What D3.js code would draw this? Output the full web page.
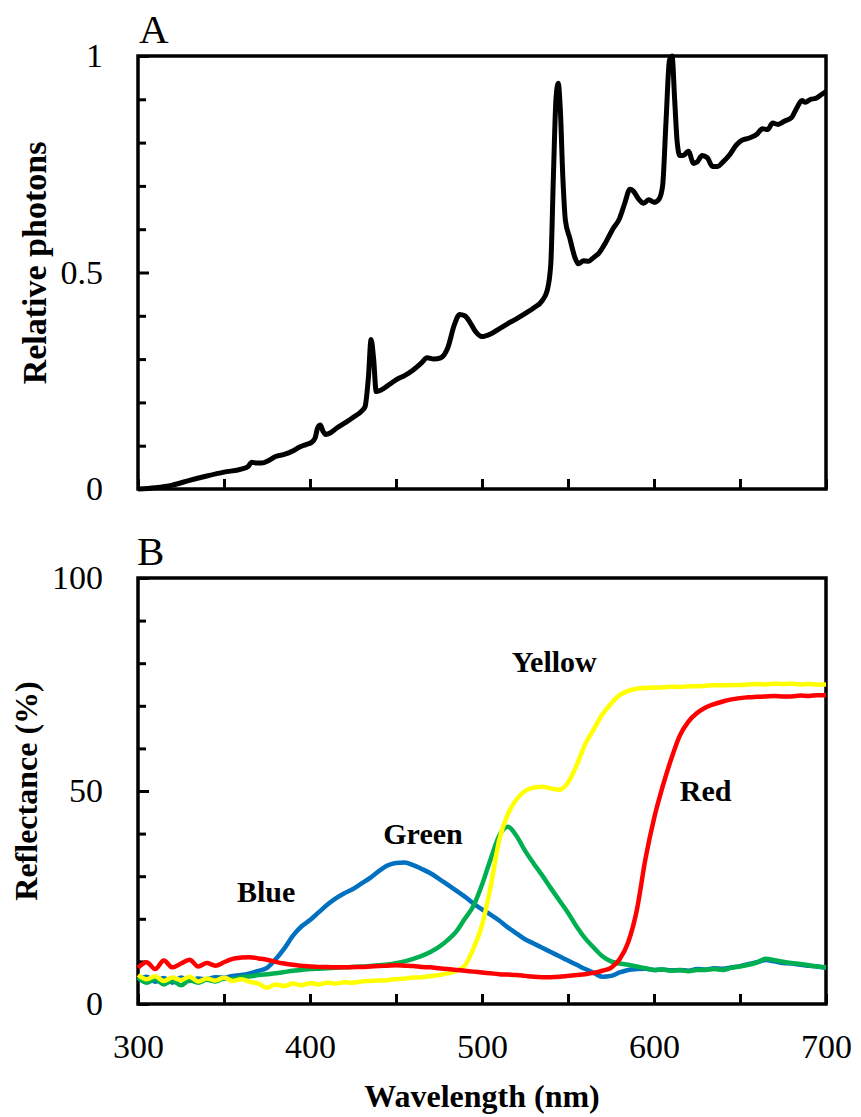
<!DOCTYPE html>
<html>
<head>
<meta charset="utf-8">
<script src="https://cdn.jsdelivr.net/npm/d3@7"></script>
<style>
body { margin: 0; background: #fff; }
svg text { font-family: "Liberation Serif", "Times New Roman", serif; fill: #000; }
</style>
</head>
<body>
<div id="chart"></div>
<script>
// panel A - lamp spectrum (relative photons)
var lampNm = [300, 310, 320, 330, 340, 350, 360, 364, 366, 369, 372, 376, 380, 385, 390, 394, 398, 401,
  403, 404.5, 406, 407.5, 409, 412, 416, 420, 425, 430, 432, 434, 435.5, 437, 438.5, 441, 445, 450,
  455, 460, 465, 468, 472, 476, 480, 484, 487, 490, 493, 496, 500, 505, 510, 515, 520, 525, 530,
  535, 538, 540, 541.5, 543, 544.3, 545.5, 547, 548.5, 551, 554, 556, 559, 562, 565, 568, 572, 576,
  580, 583, 586, 588, 591, 594, 597, 600, 603, 605, 607, 609, 610.5, 612, 613.5, 615, 617, 620, 623,
  625, 628, 631, 634, 637, 640, 644, 648, 651, 655, 660, 663, 666, 669, 672, 676, 680, 683, 686,
  688, 691, 694, 697, 700];
var lampPhotons = [0.000, 0.003, 0.009, 0.020, 0.030, 0.039, 0.046, 0.052, 0.062, 0.060, 0.060, 0.066, 0.075, 0.080, 0.088, 0.097, 0.103, 0.108,
  0.118, 0.142, 0.148, 0.134, 0.126, 0.130, 0.142, 0.152, 0.165, 0.180, 0.190, 0.260, 0.345, 0.300, 0.225, 0.228, 0.238, 0.252,
  0.262, 0.275, 0.292, 0.303, 0.300, 0.303, 0.325, 0.380, 0.403, 0.400, 0.385, 0.365, 0.352, 0.358, 0.370, 0.382, 0.393, 0.405, 0.418,
  0.435, 0.460, 0.520, 0.720, 0.900, 0.937, 0.880, 0.720, 0.620, 0.580, 0.535, 0.520, 0.527, 0.526, 0.535, 0.545, 0.570, 0.600,
  0.625, 0.660, 0.692, 0.688, 0.670, 0.660, 0.668, 0.662, 0.670, 0.700, 0.850, 0.990, 1.000, 0.900, 0.800, 0.770, 0.770, 0.780, 0.752,
  0.755, 0.770, 0.765, 0.745, 0.745, 0.755, 0.772, 0.795, 0.805, 0.810, 0.820, 0.832, 0.830, 0.845, 0.842, 0.850, 0.858, 0.880, 0.897,
  0.893, 0.900, 0.902, 0.910, 0.918];

// panel B - reflectance (%) of the four coloured surfaces
var reflNm = [300, 305, 310, 315, 320, 325, 330, 335, 340, 345, 350, 355, 360, 365, 370, 375, 380, 385, 390, 395,
  400, 405, 410, 415, 420, 425, 430, 435, 440, 445, 450, 455, 460, 465, 470, 475, 480, 485, 490, 495,
  500, 505, 510, 515, 520, 525, 530, 535, 540, 545, 550, 555, 560, 565, 570, 575, 580, 585, 590, 595,
  600, 605, 610, 615, 620, 625, 630, 635, 640, 645, 650, 655, 660, 665, 670, 675, 680, 685, 690, 695, 700];
var blueRefl = [5.6, 6.4, 5.2, 6.1, 5.0, 6.2, 5.4, 6.0, 5.8, 6.3, 6.2, 6.6, 6.8, 7.2, 7.8, 8.5, 10.5, 13.0, 16.0, 18.2,
  19.7, 21.5, 23.3, 24.8, 26.0, 27.0, 28.3, 29.6, 31.2, 32.5, 33.1, 33.2, 32.6, 31.7, 30.7, 29.4, 28.0, 26.6, 25.2, 23.6,
  22.2, 21.0, 19.6, 18.0, 16.6, 15.2, 14.2, 13.2, 12.2, 11.2, 10.2, 9.2, 8.2, 7.3, 6.4, 6.6, 7.4, 8.0, 8.2, 8.3,
  8.0, 8.1, 7.9, 8.0, 7.8, 8.2, 8.1, 8.4, 8.3, 8.6, 8.9, 9.4, 9.8, 10.3, 10.0, 9.6, 9.5, 9.2, 9.0, 8.8, 8.5];
var greenRefl = [6.2, 5.0, 5.8, 4.6, 5.5, 4.4, 5.6, 5.0, 5.7, 5.3, 6.0, 5.8, 6.3, 6.5, 6.8, 7.0, 7.2, 7.5, 7.8, 8.0,
  8.2, 8.3, 8.4, 8.5, 8.6, 8.7, 8.8, 8.9, 9.1, 9.3, 9.6, 10.0, 10.6, 11.3, 12.2, 13.4, 15.0, 17.0, 20.0, 23.0,
  28.0, 34.0, 39.5, 41.6, 39.5, 36.0, 33.0, 30.2, 27.2, 24.3, 21.4, 18.2, 15.4, 13.2, 11.2, 10.0, 9.5, 9.2, 8.8, 8.4,
  8.0, 8.1, 7.8, 7.9, 7.7, 8.0, 8.0, 8.2, 8.0, 8.5, 8.8, 9.2, 9.8, 10.6, 10.3, 9.9, 9.6, 9.4, 9.1, 8.8, 8.6];
var yellowRefl = [6.8, 5.8, 6.5, 5.4, 6.2, 5.6, 6.4, 5.3, 6.0, 5.5, 6.2, 5.4, 5.8, 5.2, 4.8, 3.8, 4.6, 4.2, 4.8, 4.4,
  4.9, 4.6, 5.0, 4.8, 5.1, 5.0, 5.3, 5.4, 5.5, 5.6, 5.8, 6.0, 6.2, 6.3, 6.5, 6.8, 7.2, 7.8, 9.0, 13.0,
  18.5, 27.5, 38.5, 44.5, 48.0, 50.0, 50.8, 51.0, 50.6, 50.3, 52.0, 56.0, 61.0, 64.5, 68.0, 70.5, 72.5, 73.5, 74.0, 74.2,
  74.3, 74.3, 74.5, 74.4, 74.6, 74.6, 74.7, 74.8, 74.8, 74.9, 74.9, 75.0, 75.1, 75.0, 75.2, 75.1, 75.2, 75.0, 75.1, 75.0, 75.0];
var redRefl = [8.5, 9.8, 8.2, 10.2, 8.6, 9.5, 10.4, 8.8, 9.6, 9.0, 9.8, 10.6, 10.9, 11.0, 10.7, 10.4, 9.9, 9.5, 9.2, 9.0,
  8.8, 8.7, 8.7, 8.6, 8.6, 8.7, 8.7, 8.8, 8.9, 9.0, 9.1, 9.0, 8.9, 8.7, 8.6, 8.4, 8.2, 8.0, 7.8, 7.6,
  7.4, 7.2, 7.0, 6.9, 6.8, 6.6, 6.4, 6.3, 6.3, 6.4, 6.6, 6.8, 7.0, 7.3, 7.8, 8.5, 10.5, 14.5, 22.0, 34.0,
  43.5, 51.0, 57.5, 63.0, 66.3, 68.3, 69.6, 70.4, 71.0, 71.5, 71.8, 72.0, 72.1, 72.2, 72.3, 72.2, 72.2, 72.4, 72.3, 72.5, 72.5];

var seriesNames = ['Blue', 'Green', 'Yellow', 'Red'];
var seriesColors = ['#0070c0', '#00b050', '#ffff00', '#ff0000'];
var seriesValues = [blueRefl, greenRefl, yellowRefl, redRefl];

var xMajor = [300, 400, 500, 600, 700];
var xMinor = [350, 450, 550, 650];
var photonMajor = [0, 0.5, 1];
var photonMinor = [0.1, 0.2, 0.3, 0.4, 0.6, 0.7, 0.8, 0.9];
var reflMajor = [0, 50, 100];
var reflMinor = [10, 20, 30, 40, 60, 70, 80, 90];

var W = 861, H = 1117;
var svg = d3.select('#chart').append('svg')
    .attr('width', W)
    .attr('height', H);

var x = d3.scaleLinear().domain([300, 700]).range([138, 826]);
var yA = d3.scaleLinear().domain([0, 1]).range([489, 56]);
var yB = d3.scaleLinear().domain([0, 100]).range([1004, 578]);

function drawPanel(y, major, minor, fmt, showX) {
    var g = svg.append('g');
    var top = y.range()[1], bottom = y.range()[0];

    // minor ticks, no labels
    g.append('g').attr('transform', 'translate(' + x.range()[0] + ',0)')
        .call(d3.axisLeft(y).tickValues(minor).tickSize(-8).tickFormat(''));
    g.append('g').attr('transform', 'translate(' + x.range()[0] + ',0)')
        .call(d3.axisLeft(y).tickValues(major).tickSizeInner(-11).tickSizeOuter(0)
            .tickPadding(35).tickFormat(fmt))
        .selectAll('text').style('font-size', '34px');

    var xa = g.append('g').attr('transform', 'translate(0,' + bottom + ')')
        .call(d3.axisBottom(x).tickValues(xMajor.concat(xMinor)).tickSizeInner(-10).tickSizeOuter(0)
            .tickPadding(30).tickFormat(function(d) { return showX && xMajor.indexOf(d) >= 0 ? d : ''; }));
    xa.selectAll('text').style('font-size', '34px');

    g.selectAll('.domain').remove();
    g.selectAll('.tick line').attr('stroke', '#000').attr('stroke-width', 3);

    // frame
    g.append('rect')
        .attr('x', x.range()[0]).attr('y', top)
        .attr('width', x.range()[1] - x.range()[0])
        .attr('height', bottom - top)
        .attr('fill', 'none').attr('stroke', '#000').attr('stroke-width', 3.5);
    return g;
}

drawPanel(yA, photonMajor, photonMinor, function(d) { return d; }, false);
drawPanel(yB, reflMajor, reflMinor, function(d) { return d; }, true);

// lamp line
var lampLine = d3.line()
    .x(function(d, i) { return x(lampNm[i]); })
    .y(function(d) { return yA(d); })
    .curve(d3.curveMonotoneX);
svg.append('path')
    .datum(lampPhotons)
    .attr('d', lampLine)
    .attr('fill', 'none')
    .attr('stroke', '#000')
    .attr('stroke-width', 5)
    .attr('stroke-linejoin', 'round');

// reflectance lines
var reflLine = d3.line()
    .x(function(d, i) { return x(reflNm[i]); })
    .y(function(d) { return yB(d); })
    .curve(d3.curveMonotoneX);
svg.selectAll('.refl')
    .data(seriesValues)
    .enter()
    .append('path')
    .attr('class', 'refl')
    .attr('d', reflLine)
    .attr('fill', 'none')
    .attr('stroke', function(d, i) { return seriesColors[i]; })
    .attr('stroke-width', 4.5)
    .attr('stroke-linejoin', 'round');

// series names, placed in data units
var namePos = [[374.5, 23.9], [465.7, 37.6], [542, 77.9], [630, 47.6]];
svg.selectAll('.name')
    .data(seriesNames)
    .enter()
    .append('text')
    .attr('class', 'name')
    .attr('x', function(d, i) { return x(namePos[i][0]); })
    .attr('y', function(d, i) { return yB(namePos[i][1]); })
    .attr('text-anchor', 'middle')
    .style('font-size', '30px')
    .style('font-weight', 'bold')
    .text(function(d) { return d; });

// panel letters
svg.append('text').attr('x', 139).attr('y', 43).style('font-size', '41px').text('A');
svg.append('text').attr('x', 137).attr('y', 565).style('font-size', '41px').text('B');

// axis titles
svg.append('text')
    .attr('transform', 'translate(46,263) rotate(-90)')
    .attr('text-anchor', 'middle')
    .style('font-size', '34px').style('font-weight', 'bold')
    .text('Relative photons');
svg.append('text')
    .attr('transform', 'translate(37,791) rotate(-90)')
    .attr('text-anchor', 'middle')
    .style('font-size', '32px').style('font-weight', 'bold')
    .text('Reflectance (%)');
svg.append('text')
    .attr('x', 482).attr('y', 1107)
    .attr('text-anchor', 'middle')
    .style('font-size', '32px').style('font-weight', 'bold')
    .text('Wavelength (nm)');
</script>
</body>
</html>
